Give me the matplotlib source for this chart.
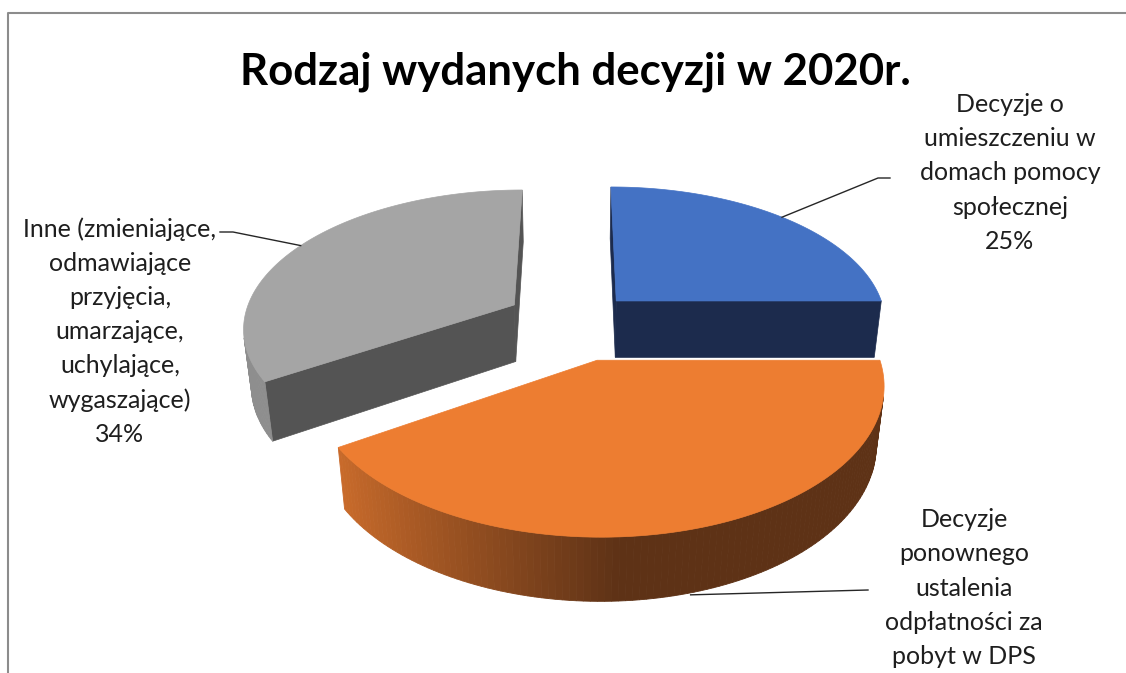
import numpy as np
import matplotlib
matplotlib.use('Agg')
from matplotlib import pyplot as plt
from matplotlib.patches import Polygon
from matplotlib.colors import to_rgb

# Dane wykresu
labels = ['Decyzje o\numieszczeniu w\ndomach pomocy\nspołecznej',
          'Decyzje\nponownego\nustalenia\nodpłatności za\npobyt w DPS',
          'Inne (zmieniające,\nodmawiające\nprzyjęcia,\numarzające,\nuchylające,\nwygaszające)']
values = [25, 41, 34]
top_colors = ['#4472C4', '#ED7D31', '#A5A5A5']
cut_colors = ['#1C2B4D', '#5E3216', '#545454']
explode = [0.22, 0.28, 0.26]
title = 'Rodzaj wydanych decyzji w 2020r.'

# Parametry rzutu perspektywicznego (piksele)
W, H = 1126, 673
cx, cy = 575, 379
f, D = 1510, 5.7
phi = np.radians(32.5)
h = 0.25
cam = np.array([0.0, -D * np.cos(phi), D * np.sin(phi)])


def proj(x, y, z):
    x, y, z = np.asarray(x, float), np.asarray(y, float), np.asarray(z, float)
    w = D + y * np.cos(phi) - z * np.sin(phi)
    sx = cx + f * x / w
    sy = cy - f * (y * np.sin(phi) + z * np.cos(phi)) / w
    return np.column_stack([np.atleast_1d(sx), np.atleast_1d(sy)])


def visible(p, n):
    return np.dot(cam - p, n) > 0


def mix(c1, c2, t):
    a, b = np.array(to_rgb(c1)), np.array(to_rgb(c2))
    return tuple(a + (b - a) * t)


fig = plt.figure(figsize=(W / 100, H / 100), dpi=100)
ax = fig.add_axes([0, 0, 1, 1])
ax.set_xlim(0, W)
ax.set_ylim(H, 0)
ax.axis('off')

# ramka wykresu
ax.plot([8, 8, W + 5], [H + 5, 13, 13], color='#8C8C8C', lw=1.5, zorder=1)

# kąty wycinków: start na 90°, zgodnie z ruchem wskazówek zegara
fr = np.array(values) / sum(values)
ends = 90 - 360 * np.cumsum(fr)
starts = np.concatenate([[90], ends[:-1]])
mids = (starts + ends) / 2

slices = []
for i in range(len(values)):
    m = np.radians(mids[i])
    off = explode[i] * np.array([np.cos(m), np.sin(m)])
    th = np.radians(np.linspace(starts[i], ends[i], 120))
    slices.append((off, th))

order = [2, 0, 1]  # od tyłu do przodu
for i in order:
    off, th = slices[i]
    z = 10 + order.index(i) * 10
    rx = off[0] + np.cos(th)
    ry = off[1] + np.sin(th)
    # ściany przekroju
    for a, sgn in ((th[0], 1), (th[-1], -1)):
        p0 = np.array([off[0], off[1], h / 2])
        d = np.array([np.cos(a), np.sin(a), 0])
        n = sgn * np.array([-np.sin(a), np.cos(a), 0])  # normalna na zewnątrz
        if visible(p0 + d / 2, n):
            xs = [off[0], off[0] + d[0], off[0] + d[0], off[0]]
            ys = [off[1], off[1] + d[1], off[1] + d[1], off[1]]
            zs = [0, 0, h, h]
            ax.add_patch(Polygon(proj(xs, ys, zs), closed=True, fc=cut_colors[i],
                                 ec=cut_colors[i], lw=0.5, zorder=z))
    # ściana boczna
    for k in range(len(th) - 1):
        a = (th[k] + th[k + 1]) / 2
        n = np.array([np.cos(a), np.sin(a), 0])
        p = np.array([off[0] + n[0], off[1] + n[1], h / 2])
        if not visible(p, n):
            continue
        if i == 1:
            t = np.clip((-np.cos(a) + 0.05) / 0.9, 0, 1)
            col = mix('#5E3216', '#C96B2B', t)
        elif i == 2:
            col = '#8E8E8E'
        else:
            col = cut_colors[i]
        xs = [rx[k], rx[k + 1], rx[k + 1], rx[k]]
        ys = [ry[k], ry[k + 1], ry[k + 1], ry[k]]
        ax.add_patch(Polygon(proj(xs, ys, [0, 0, h, h]), closed=True, fc=col,
                             ec=col, lw=0.6, zorder=z + 1))
    # wierzch
    xs = np.concatenate([[off[0]], rx])
    ys = np.concatenate([[off[1]], ry])
    ax.add_patch(Polygon(proj(xs, ys, np.full(len(xs), h)), closed=True,
                         fc=top_colors[i], ec=top_colors[i], lw=0.5, zorder=z + 2))

# punkty zaczepienia linii odniesienia
def anchor(i, zz):
    off, th = slices[i]
    m = np.radians(mids[i])
    return proj(off[0] + np.cos(m), off[1] + np.sin(m), zz)[0]

font = ['Lato', 'DejaVu Sans']
lab_kw = dict(ha='center', va='center', fontsize=18, color='#1E1E1E',
              family=font, linespacing=1.58, zorder=50)

# Decyzje o umieszczeniu
a = anchor(0, h)
ax.plot([a[0], 878, 890], [a[1], 178, 178], color='#262626', lw=1, zorder=40)
ax.text(1010, 173, f'{labels[0]}\n{values[0]}%', **lab_kw)

# Inne
a = anchor(2, h)
ax.plot([a[0], 233, 220], [a[1], 232, 232], color='#262626', lw=1, zorder=40)
ax.text(120, 332, f'{labels[2]}\n{values[2]}%', **lab_kw)

# Decyzje ponownego ustalenia (wartość procentowa poza kadrem)
a = anchor(1, 0)
ax.plot([a[0], 868], [a[1] + 2, 590], color='#262626', lw=1, zorder=40)
ax.text(964, 588, labels[1], **lab_kw)

ax.text(575, 72, title, ha='center', va='center', fontsize=31.5, fontweight='bold',
        family=font, color='black', zorder=50)

fig.savefig('out.png', dpi=100)
